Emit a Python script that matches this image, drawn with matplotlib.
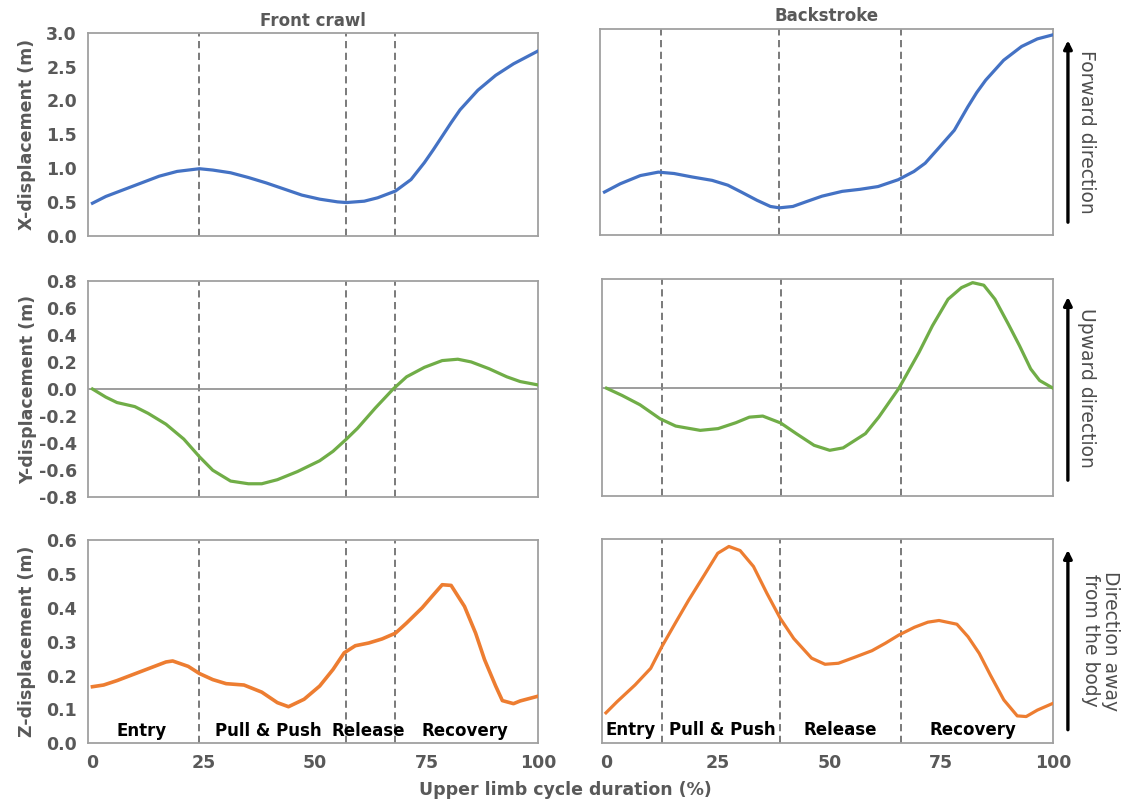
import matplotlib
matplotlib.use("Agg")
import matplotlib.pyplot as plt
import numpy as np

plt.rcParams['font.family'] = ['DejaVu Sans']
plt.rcParams['axes.unicode_minus'] = False

# phase boundaries (% of cycle) and phase names
fc_phases = [24, 57, 68]
bs_phases = [12.5, 39, 66]
phase_names = ['Entry', 'Pull & Push', 'Release', 'Recovery']
fc_label_x = [11, 39.5, 62, 83.5]
bs_label_x = [5.5, 26, 52.5, 82]

# front crawl - X
fc_x_t = [0, 3, 7, 11, 15, 19, 24, 27, 31, 35, 39, 43, 47, 51, 55, 57, 61, 64, 68,
          71.5, 74.5, 76.5, 78.5, 80.5, 82.5, 86.5, 90.5, 94.5, 100]
fc_x_v = [0.48, 0.58, 0.68, 0.78, 0.88, 0.95, 0.99, 0.97, 0.93, 0.86, 0.78, 0.69,
          0.60, 0.54, 0.50, 0.49, 0.51, 0.56, 0.66, 0.83, 1.08, 1.27, 1.47, 1.67,
          1.86, 2.15, 2.37, 2.54, 2.73]

# backstroke - X
bs_x_t = [0, 3.5, 8, 12, 15.5, 19.5, 24, 27.5, 30.5, 34, 37, 39, 42, 45, 48.5, 53,
          57, 61, 65.5, 69, 71.5, 74.5, 78, 81, 83, 85, 89, 93, 96.5, 100]
bs_x_v = [0.63, 0.75, 0.87, 0.92, 0.90, 0.85, 0.80, 0.73, 0.63, 0.51, 0.42, 0.40,
          0.42, 0.49, 0.57, 0.64, 0.67, 0.71, 0.81, 0.93, 1.05, 1.27, 1.53, 1.87,
          2.08, 2.26, 2.55, 2.75, 2.86, 2.92]

# front crawl - Y
fc_y_t = [0, 3, 5.5, 9.5, 12.5, 16.5, 20.5, 24, 27, 31, 35, 38, 41.5, 46, 51, 54,
          57, 59.5, 63.5, 67.5, 70.5, 74.5, 78.5, 82, 85, 89, 93, 96, 100]
fc_y_v = [0.0, -0.06, -0.10, -0.13, -0.18, -0.26, -0.37, -0.50, -0.60, -0.68,
          -0.70, -0.70, -0.67, -0.61, -0.53, -0.46, -0.37, -0.29, -0.14, 0.0, 0.09,
          0.16, 0.21, 0.22, 0.20, 0.15, 0.09, 0.055, 0.03]

# backstroke - Y
bs_y_t = [0, 3.5, 7.5, 12, 15.5, 21, 25, 29, 32, 35, 39, 42.5, 46.5, 50, 53, 58,
          61, 65.5, 70, 73, 76.5, 79.5, 82, 84.5, 87, 90, 92.5, 95, 97, 100]
bs_y_v = [0.0, -0.054, -0.123, -0.227, -0.281, -0.313, -0.300, -0.256, -0.215,
          -0.207, -0.258, -0.337, -0.424, -0.461, -0.443, -0.337, -0.214, 0.0,
          0.266, 0.463, 0.660, 0.746, 0.783, 0.764, 0.660, 0.475, 0.315, 0.143,
          0.057, 0.0]

# front crawl - Z
fc_z_t = [0, 2.5, 5.5, 9.5, 12.5, 16.5, 18, 21.5, 24, 27, 30, 34, 38, 41.5, 44,
          47.5, 51, 54, 56.5, 59, 62, 65, 68, 70.5, 74, 76.5, 78.5, 80.5, 83.5, 86,
          88, 90.5, 92, 94.5, 96, 100]
fc_z_v = [0.167, 0.172, 0.185, 0.205, 0.22, 0.24, 0.243, 0.227, 0.206, 0.188,
          0.176, 0.172, 0.151, 0.12, 0.108, 0.13, 0.169, 0.218, 0.267, 0.288, 0.296,
          0.308, 0.325, 0.355, 0.40, 0.438, 0.468, 0.466, 0.404, 0.325, 0.247,
          0.169, 0.126, 0.117, 0.125, 0.139]

# backstroke - Z
bs_z_t = [0, 2.5, 6.5, 10, 12.5, 15.5, 18.5, 22, 25, 27.5, 30, 33, 36, 39, 42, 46,
          49, 52, 55.5, 59.5, 62.5, 65.5, 69, 72, 74.5, 78.5, 81, 83.5, 86, 89, 92,
          94, 96.5, 100]
bs_z_v = [0.088, 0.121, 0.17, 0.219, 0.283, 0.352, 0.42, 0.494, 0.558, 0.578,
          0.566, 0.519, 0.44, 0.366, 0.307, 0.249, 0.231, 0.234, 0.251, 0.271,
          0.293, 0.317, 0.34, 0.355, 0.36, 0.349, 0.312, 0.263, 0.199, 0.126,
          0.079, 0.077, 0.096, 0.116]

blue = '#4472C4'
green = '#70AD47'
orange = '#ED7D31'
grey_txt = '#595959'
W, H = 1128, 808

fig = plt.figure(figsize=(W / 100, H / 100), dpi=100)


def add_ax(x0, y0, x1, y1):  # pixel box -> axes
    return fig.add_axes([x0 / W, 1 - y1 / H, (x1 - x0) / W, (y1 - y0) / H])


def style(ax, phases, ylim, yticks, show_y, show_x):
    ax.set_xlim(-1, 100)
    ax.set_ylim(*ylim)
    for p in phases:
        ax.axvline(p, color='#707070', lw=1.3, ls=(0, (4, 2.5)), zorder=1)
    for s in ax.spines.values():
        s.set_color('#a0a0a0')
        s.set_linewidth(1.3)
    ax.set_xticks([0, 25, 50, 75, 100])
    ax.set_yticks(yticks)
    ax.set_yticklabels(['%.1f' % (v + 0.0) for v in yticks])
    ax.tick_params(length=0, pad=8, labelsize=12.5, labelcolor=grey_txt)
    for lab in ax.get_xticklabels() + ax.get_yticklabels():
        lab.set_fontweight('bold')
    if not show_y:
        ax.set_yticklabels([])
    if not show_x:
        ax.set_xticklabels([])


ax1 = add_ax(88, 32.7, 538, 235.7)
ax2 = add_ax(600, 29.3, 1053, 235.3)
ax3 = add_ax(88, 280.7, 538, 497.3)
ax4 = add_ax(602, 279, 1053, 496)
ax5 = add_ax(88, 540, 538, 743.3)
ax6 = add_ax(601.5, 539, 1053, 742.7)

xt = [0.0, 0.5, 1.0, 1.5, 2.0, 2.5, 3.0]
yt = [-0.8, -0.6, -0.4, -0.2, 0.0, 0.2, 0.4, 0.6, 0.8]
zt = [0.0, 0.1, 0.2, 0.3, 0.4, 0.5, 0.6]

style(ax1, fc_phases, (0, 3), xt, True, False)
style(ax2, bs_phases, (0, 3), xt, False, False)
style(ax3, fc_phases, (-0.8, 0.8), yt, True, False)
style(ax4, bs_phases, (-0.79, 0.81), yt, False, False)
style(ax5, fc_phases, (0, 0.6), zt, True, True)
style(ax6, bs_phases, (0, 0.6), zt, False, True)

for ax in (ax3, ax4):
    ax.axhline(0, color='#8c8c8c', lw=1.2, zorder=1)

ax1.plot(fc_x_t, fc_x_v, color=blue, lw=2.3, zorder=3)
ax2.plot(bs_x_t, bs_x_v, color=blue, lw=2.3, zorder=3)
ax3.plot(fc_y_t, fc_y_v, color=green, lw=2.3, zorder=3)
ax4.plot(bs_y_t, bs_y_v, color=green, lw=2.3, zorder=3)
ax5.plot(fc_z_t, fc_z_v, color=orange, lw=2.6, zorder=3)
ax6.plot(bs_z_t, bs_z_v, color=orange, lw=2.3, zorder=3)

for ax, xs in ((ax5, fc_label_x), (ax6, bs_label_x)):
    for x, name in zip(xs, phase_names):
        ax.text(x, 0.037, name, ha='center', va='center', fontsize=12,
                fontweight='bold', color='black', zorder=4)

ax1.set_ylabel('X-displacement (m)', fontsize=12.5, fontweight='bold',
               color=grey_txt, labelpad=7)
ax3.set_ylabel('Y-displacement (m)', fontsize=12.5, fontweight='bold',
               color=grey_txt, labelpad=1)
ax5.set_ylabel('Z-displacement (m)', fontsize=12.5, fontweight='bold',
               color=grey_txt, labelpad=7)
ax1.set_title('Front crawl', fontsize=12, fontweight='bold', color=grey_txt, pad=5)
ax2.set_title('Backstroke', fontsize=12, fontweight='bold', color=grey_txt, pad=6)
fig.text(565 / W, 1 - 790 / H, 'Upper limb cycle duration (%)', ha='center',
         va='center', fontsize=12.5, fontweight='bold', color=grey_txt)

# direction arrows on the right
arrow_specs = [(ax2, 0.05, 0.96, 'Forward direction', 1.075),
               (ax4, 0.06, 0.93, 'Upward direction', 1.075),
               (ax6, 0.05, 0.96, 'Direction away\nfrom the body', 1.105)]
for ax, yb, yt_, label, tx in arrow_specs:
    ax.annotate('', xy=(1.033, yt_), xytext=(1.033, yb), xycoords='axes fraction',
                arrowprops=dict(arrowstyle='-|>', color='black', lw=2.4,
                                mutation_scale=12), annotation_clip=False)
    ax.text(tx, 0.5, label, transform=ax.transAxes, rotation=-90, ha='center',
            va='center', fontsize=13.5, color='#4d4d4d', linespacing=1.05)

fig.savefig('out.png', dpi=100)
